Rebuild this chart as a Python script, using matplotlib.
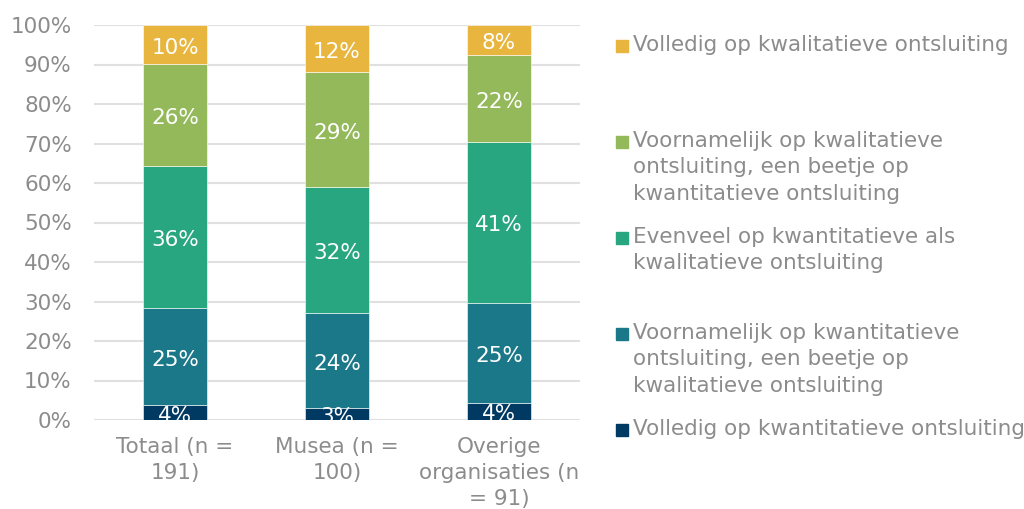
import matplotlib.pyplot as plt
import numpy as np
from matplotlib.patches import Rectangle

# Categories (x axis)
categories = ["Totaal (n =\n191)", "Musea (n =\n100)", "Overige\norganisaties (n\n= 91)"]

# Series, from bottom to top of the stack (percent)
volledig_kwant = [3.7, 3.0, 4.4]
voorn_kwant = [24.6, 24.0, 25.3]
evenveel = [36.1, 32.0, 40.7]
voorn_kwal = [25.7, 29.0, 22.0]
volledig_kwal = [9.9, 12.0, 7.6]

series_names = [
    "Volledig op kwantitatieve ontsluiting",
    "Voornamelijk op kwantitatieve\nontsluiting, een beetje op\nkwalitatieve ontsluiting",
    "Evenveel op kwantitatieve als\nkwalitatieve ontsluiting",
    "Voornamelijk op kwalitatieve\nontsluiting, een beetje op\nkwantitatieve ontsluiting",
    "Volledig op kwalitatieve ontsluiting",
]
colors = ["#003A63", "#1B7889", "#27A67F", "#93B95B", "#E8B63E"]

plt.rcParams['font.family'] = ['DejaVu Sans']
grey = "#8C8C8C"
fs = 15.5

fig = plt.figure(figsize=(10.24, 5.09), dpi=100)
ax = fig.add_axes([94 / 1024, 89 / 509, 486 / 1024, 395 / 509])

x = np.arange(len(categories))
bottom = np.zeros(len(categories))
all_series = [volledig_kwant, voorn_kwant, evenveel, voorn_kwal, volledig_kwal]
for vals, col in zip(all_series, colors):
    vals = np.array(vals)
    ax.bar(x, vals, 0.4, bottom=bottom, color=col, edgecolor='white',
           linewidth=0.4, zorder=3)
    for xi, b, v in zip(x, bottom, vals):
        ax.text(xi, b + v / 2 - 0.8, f"{round(v):.0f}%", ha='center', va='center',
                color='white', fontsize=fs, zorder=4, clip_on=True)
    bottom += vals

ax.set_xlim(-0.5, 2.5)
ax.set_ylim(0, 100)
ax.set_yticks(np.arange(0, 101, 10))
ax.set_yticklabels([f"{t}%" for t in range(0, 101, 10)])
ax.set_xticks(x)
ax.set_xticklabels(categories, linespacing=1.4)
ax.tick_params(axis='both', length=0, labelsize=fs, colors=grey)
ax.tick_params(axis='y', pad=16)
ax.tick_params(axis='x', pad=12)
ax.grid(axis='y', color='#E0E0E0', linewidth=1.5, zorder=0)
for s in ax.spines.values():
    s.set_visible(False)

# legend, top entry first, drawn by hand
leg_y = [46, 142, 238, 334, 430]
for name, col, yp in zip(series_names[::-1], colors[::-1], leg_y):
    fy = 1 - yp / 509
    fig.patches.append(Rectangle((616 / 1024, fy - 6 / 509), 12 / 1024, 12 / 509,
                                 transform=fig.transFigure, color=col))
    fig.text(633 / 1024, fy + 11 / 509, name, ha='left', va='top', fontsize=fs,
             color=grey, linespacing=1.4)

fig.savefig("out.png", dpi=100)
